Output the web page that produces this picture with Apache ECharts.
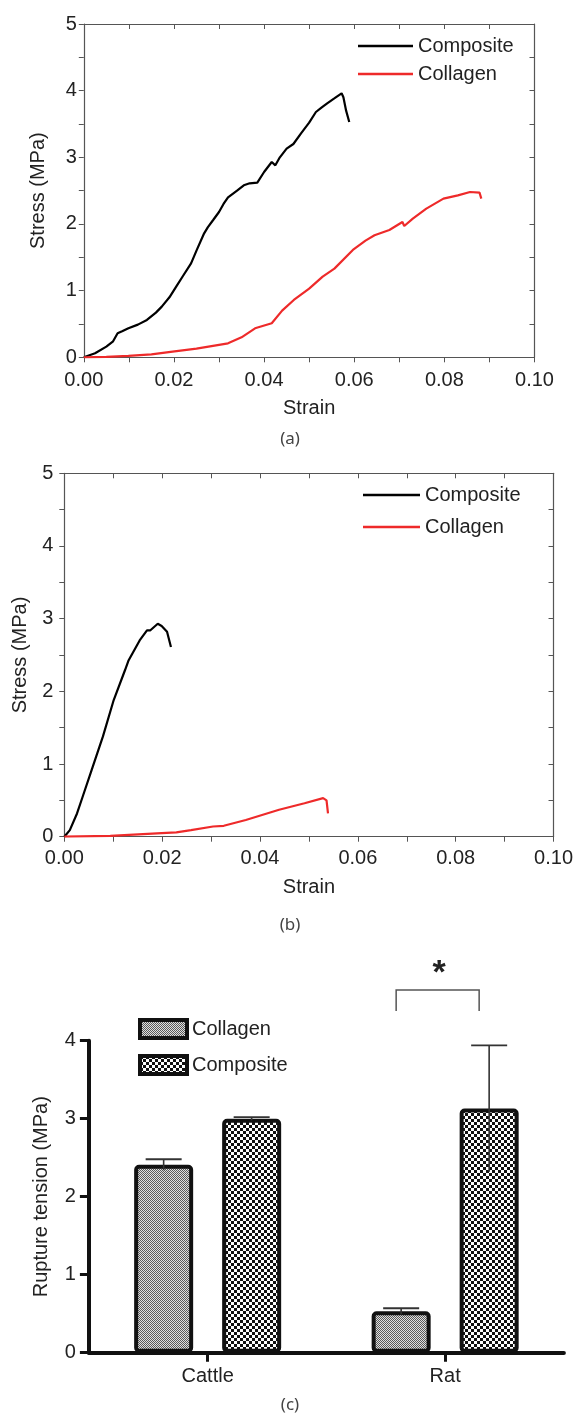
<!DOCTYPE html>
<html><head><meta charset="utf-8">
<script src="https://cdn.jsdelivr.net/npm/echarts@6/dist/echarts.min.js"></script>
<style>html,body{margin:0;padding:0;background:#fff}#c{width:576px;height:1416px}</style>
</head><body><div id="c"></div>
<script>
// ---- Panel (a) ----
const strainCompA = [0,0.0025,0.005,0.0065,0.0075,0.0085,0.0099,0.012,0.014,0.016,0.0173,0.019,0.0205,0.022,0.0238,0.025,0.0267,0.0275,0.0287,0.030,0.031,0.032,0.034,0.0355,0.0368,0.0385,0.040,0.0417,0.0425,0.0435,0.045,0.0465,0.0482,0.050,0.0515,0.0528,0.054,0.0555,0.0572,0.0576,0.0582,0.0589];
const stressCompA = [0,0.06,0.16,0.24,0.36,0.39,0.435,0.49,0.56,0.67,0.76,0.9,1.06,1.22,1.41,1.6,1.86,1.95,2.06,2.18,2.3,2.4,2.5,2.58,2.61,2.62,2.78,2.93,2.88,3.0,3.13,3.2,3.36,3.52,3.68,3.75,3.81,3.88,3.96,3.9,3.7,3.53];
const strainCollA = [0,0.005,0.0099,0.015,0.0197,0.025,0.032,0.035,0.038,0.0417,0.044,0.0466,0.050,0.053,0.0556,0.0597,0.0625,0.0645,0.0678,0.0707,0.0711,0.073,0.076,0.0798,0.083,0.0857,0.0878,0.0882];
const stressCollA = [0,0.005,0.02,0.045,0.085,0.13,0.21,0.3,0.435,0.51,0.7,0.86,1.03,1.21,1.33,1.61,1.75,1.83,1.91,2.03,1.97,2.08,2.23,2.38,2.43,2.48,2.47,2.38];
// ---- Panel (b) ----
const strainCompB = [0,0.00113,0.0026,0.00375,0.0056,0.0079,0.0101,0.0124,0.0131,0.0154,0.0169,0.0176,0.0191,0.0199,0.021,0.0214,0.0218];
const stressCompB = [0,0.09,0.32,0.55,0.92,1.38,1.88,2.29,2.42,2.70,2.84,2.84,2.93,2.9,2.82,2.8,2.61];
const strainCollB = [0,0.0094,0.0199,0.0229,0.0259,0.0304,0.0326,0.0371,0.0439,0.0491,0.0529,0.0536,0.0539];
const stressCollB = [0,0.01,0.05,0.06,0.09,0.14,0.15,0.23,0.37,0.46,0.53,0.5,0.32];
// ---- Panel (c) ----
const groups = ['Cattle','Rat'];
const collagenMean = [2.41, 0.53];
const collagenErr = [0.07, 0.04];
const compositeMean = [3.0, 3.13];
const compositeErr = [0.02, 0.81];
const sigLevel = [4.65, 4.38]; // bracket top, leg bottom (value units)

const zip = (a,b)=>a.map((v,i)=>[v,b[i]]);

function pattern(size, cell, c1, c2){
  const cv = document.createElement('canvas'); cv.width = size; cv.height = size;
  const g = cv.getContext('2d');
  g.fillStyle = c2; g.fillRect(0,0,size,size);
  g.fillStyle = c1;
  for(let y=0;y<size;y+=cell) for(let x=0;x<size;x+=cell)
    if(((x/cell)+(y/cell))%2===0) g.fillRect(x,y,cell,cell);
  return {image: cv, repeat: 'repeat'};
}
const collPat = pattern(2,1,'#5a5a5a','#e0e0e0');
const compPat = pattern(6,3,'#111','#fff');

const FONT = 'Liberation Sans';
const axisCol = '#555';
const RED = '#ee2a2a';
const labelStyle = {color:'#222', fontSize:20, fontFamily:FONT};

function xAxes(gi, margin){
  return [{
    gridIndex:gi, type:'value', min:0, max:0.1, interval:0.02, position:'bottom',
    axisLine:{show:true, onZero:false, lineStyle:{color:axisCol,width:1.2}},
    axisTick:{show:true, inside:false, length:5, lineStyle:{color:axisCol}},
    minorTick:{show:true, splitNumber:2, length:5, lineStyle:{color:axisCol}},
    splitLine:{show:false},
    axisLabel:Object.assign({margin:margin, formatter:v=>v.toFixed(2), showMaxLabel:true}, labelStyle),
    name:'Strain', nameLocation:'middle', nameGap:41, nameTextStyle:labelStyle
  },{
    gridIndex:gi, type:'value', min:0, max:0.1, interval:0.02, position:'top',
    axisLine:{show:true, onZero:false, lineStyle:{color:axisCol,width:1.2}},
    axisTick:{show:true, inside:true, length:5, lineStyle:{color:axisCol}},
    minorTick:{show:true, splitNumber:2, length:5, lineStyle:{color:axisCol}},
    splitLine:{show:false}, axisLabel:{show:false}
  }];
}
function yAxes(gi, margin, gap){
  return [{
    gridIndex:gi, type:'value', min:0, max:5, interval:1, position:'left',
    axisLine:{show:true, onZero:false, lineStyle:{color:axisCol,width:1.2}},
    axisTick:{show:true, inside:false, length:5, lineStyle:{color:axisCol}},
    minorTick:{show:true, splitNumber:2, length:5, lineStyle:{color:axisCol}},
    splitLine:{show:false},
    axisLabel:Object.assign({margin:margin}, labelStyle),
    name:'Stress (MPa)', nameLocation:'middle', nameGap:gap, nameTextStyle:labelStyle
  },{
    gridIndex:gi, type:'value', min:0, max:5, interval:1, position:'right',
    axisLine:{show:true, onZero:false, lineStyle:{color:axisCol,width:1.2}},
    axisTick:{show:true, inside:true, length:5, lineStyle:{color:axisCol}},
    minorTick:{show:true, splitNumber:2, length:5, lineStyle:{color:axisCol}},
    splitLine:{show:false}, axisLabel:{show:false}
  }];
}

const BAR_W = 59, BAR_GAP = 29;
const half = (BAR_W + BAR_GAP)/2;

function errRender(sign){
  return function(params, api){
    const ci = api.value(0), m = api.value(1), e = api.value(2);
    const top = api.coord([ci, m+e]); const bot = api.coord([ci, m-e]);
    const x = top[0] + sign*half;
    const cap = 18;
    return {type:'group', children:[
      {type:'line', shape:{x1:x,y1:top[1],x2:x,y2:bot[1]}, style:{stroke:'#333',lineWidth:1.6}},
      {type:'line', shape:{x1:x-cap,y1:top[1],x2:x+cap,y2:top[1]}, style:{stroke:'#333',lineWidth:1.8}}
    ]};
  };
}

function lineLegend(left, top, w, gap, idx){
  return {id:'lg'+idx, orient:'vertical', left:left, top:top, itemWidth:w, itemHeight:2.5, itemGap:gap,
    textStyle:labelStyle, selectedMode:false, icon:'rect',
    data:[{name:'Composite', itemStyle:{color:'#000'}}, {name:'Collagen', itemStyle:{color:RED}}]};
}

const option = {
  animation:false,
  backgroundColor:'#fff',
  grid:[
    {left:83.8, top:24, width:450.7, height:333.3},
    {left:64.3, top:473.3, width:489.7, height:363.4},
    {left:88.9, top:1040.7, width:475, height:312}
  ],
  xAxis:[...xAxes(0,13), ...xAxes(1,12), {
    gridIndex:2, type:'category', data:groups,
    axisLine:{show:true, lineStyle:{color:'#111', width:4}},
    axisTick:{show:true, alignWithLabel:true, length:9, lineStyle:{color:'#111', width:3}},
    axisLabel:Object.assign({margin:14}, labelStyle)
  }],
  yAxis:[...yAxes(0,7,35), ...yAxes(1,11,34), {
    gridIndex:2, type:'value', min:0, max:4, interval:1,
    axisLine:{show:true, lineStyle:{color:'#111', width:4}},
    axisTick:{show:true, length:9, lineStyle:{color:'#111', width:3}},
    splitLine:{show:false},
    axisLabel:Object.assign({margin:13}, labelStyle),
    name:'Rupture tension (MPa)', nameLocation:'middle', nameGap:37, nameTextStyle:labelStyle
  }],
  legend:[
    lineLegend(353, 31, 55, 8, 'a'),
    lineLegend(358, 480, 57, 12, 'b'),
    {id:'lgc', orient:'vertical', left:133, top:1013, itemWidth:47, itemHeight:18, itemGap:14, textStyle:labelStyle, selectedMode:false,
     data:[{name:'Collagen ', icon:'rect', itemStyle:{color:collPat, borderColor:'#111', borderWidth:4}},
           {name:'Composite ', icon:'rect', itemStyle:{color:compPat, borderColor:'#111', borderWidth:4}}]}
  ],
  series:[
    {name:'Composite', type:'line', xAxisIndex:0, yAxisIndex:0, data:zip(strainCompA,stressCompA), showSymbol:false, lineStyle:{color:'#000',width:2.2}, itemStyle:{color:'#000'}},
    {name:'Collagen', type:'line', xAxisIndex:0, yAxisIndex:0, data:zip(strainCollA,stressCollA), showSymbol:false, lineStyle:{color:RED,width:2.2}, itemStyle:{color:RED}},
    {name:'Composite', type:'line', xAxisIndex:2, yAxisIndex:2, data:zip(strainCompB,stressCompB), showSymbol:false, lineStyle:{color:'#000',width:2.2}, itemStyle:{color:'#000'}},
    {name:'Collagen', type:'line', xAxisIndex:2, yAxisIndex:2, data:zip(strainCollB,stressCollB), showSymbol:false, lineStyle:{color:RED,width:2.2}, itemStyle:{color:RED}},
    {name:'Collagen ', type:'bar', xAxisIndex:4, yAxisIndex:4, data:collagenMean, barWidth:BAR_W, barGap:(BAR_GAP/BAR_W*100)+'%',
     itemStyle:{color:collPat, borderColor:'#111', borderWidth:4, borderRadius:3}},
    {name:'Composite ', type:'bar', xAxisIndex:4, yAxisIndex:4, data:compositeMean, barWidth:BAR_W,
     itemStyle:{color:compPat, borderColor:'#111', borderWidth:4, borderRadius:3}},
    {type:'custom', xAxisIndex:4, yAxisIndex:4, renderItem:errRender(-1), z:5,
     data:groups.map((g,i)=>[i, collagenMean[i], collagenErr[i]])},
    {type:'custom', xAxisIndex:4, yAxisIndex:4, renderItem:errRender(1), z:5,
     data:groups.map((g,i)=>[i, compositeMean[i], compositeErr[i]])},
    {type:'custom', xAxisIndex:4, yAxisIndex:4, clip:false, z:5,
     data:[[1, sigLevel[0], sigLevel[1]]],
     renderItem:function(params, api){
       const c = api.coord([api.value(0), api.value(1)]);
       const leg = api.coord([api.value(0), api.value(2)]);
       const x1 = c[0]-49, x2 = c[0]+34;
       return {type:'group', children:[
         {type:'polyline', shape:{points:[[x1,leg[1]],[x1,c[1]],[x2,c[1]],[x2,leg[1]]]}, style:{stroke:'#555',lineWidth:1.5,fill:null}},
         {type:'text', style:{text:'*', x:c[0]-6, y:c[1]-16, align:'center', verticalAlign:'middle', font:'bold 34px "Liberation Sans"', fill:'#222'}}
       ]};
     }}
  ],
  graphic:[
    {type:'text', x:290, y:439, style:{text:'(a)', font:'17px "Noto Sans"', fill:'#444', align:'center', verticalAlign:'middle'}},
    {type:'text', x:290, y:925, style:{text:'(b)', font:'17px "Noto Sans"', fill:'#444', align:'center', verticalAlign:'middle'}},
    {type:'text', x:290, y:1405, style:{text:'(c)', font:'17px "Noto Sans"', fill:'#444', align:'center', verticalAlign:'middle'}}
  ]
};
const chart = echarts.init(document.getElementById('c'), null, {renderer:'canvas'});
chart.setOption(option);
</script></body></html>
